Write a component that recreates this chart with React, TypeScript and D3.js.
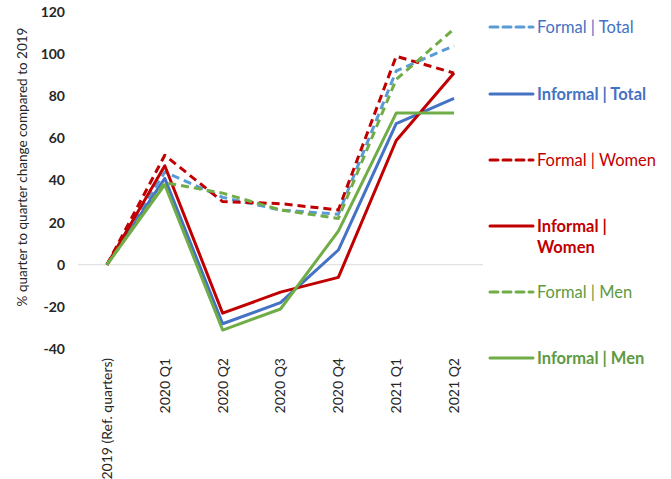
import React from "react";
import * as d3 from "d3";

const categories = ["2019 (Ref. quarters)", "2020 Q1", "2020 Q2", "2020 Q3", "2020 Q4", "2021 Q1", "2021 Q2"];
const yTicks = [-40, -20, 0, 20, 40, 60, 80, 100, 120];

const formalTotal = [0, 44, 32, 26, 24, 92, 104];
const informalTotal = [0, 41, -28, -18, 7, 67, 79];
const formalWomen = [0, 52, 30, 29, 26, 99, 91];
const informalWomen = [0, 47, -23, -13, -6, 59, 91];
const formalMen = [0, 39, 34, 26, 22, 88, 112];
const informalMen = [0, 38, -31, -21, 16, 72, 72];

const seriesNames = ["Formal | Total", "Informal | Total", "Formal | Women", "Informal | Women", "Formal | Men", "Informal | Men"];
const seriesData = [formalTotal, informalTotal, formalWomen, informalWomen, formalMen, informalMen];
const lineColors = ["#5B9BD5", "#4472C4", "#C00000", "#C00000", "#70AD47", "#70AD47"];
const textColors = ["#4472C4", "#4472C4", "#C00000", "#C00000", "#5E9A3F", "#5E9A3F"];
const dashed = [true, false, true, false, true, false];

const W = 671;
const H = 479;
const FONT = "Lato, 'Open Sans', sans-serif";

export default function App() {
  const x = d3.scalePoint<string>().domain(categories).range([78, 483]).padding(0.5);
  const y = d3.scaleLinear().domain([-40, 120]).range([349, 12]);
  const line = d3
    .line<number>()
    .x((_, i) => x(categories[i]) as number)
    .y((d) => y(d));

  const legendY = [27, 94, 160, 226, 292, 358];

  return (
    <svg width={W} height={H} style={{ position: "absolute", left: 0, top: 0, background: "#fff" }} fontFamily={FONT}>
      <rect width={W} height={H} fill="#fff" />
      <line x1={78} x2={483} y1={y(0)} y2={y(0)} stroke="#D9D9D9" strokeWidth={1.2} />
      {yTicks.map((t) => (
        <text key={t} x={65} y={y(t)} dy="0.35em" textAnchor="end" fontSize={14} fontWeight="bold" fill="#262626">
          {t}
        </text>
      ))}
      <text
        transform={`translate(22,167) rotate(-90)`}
        textAnchor="middle"
        dy="0.35em"
        fontSize={13.5}
        fill="#262626"
      >
        % quarter to quarter change compared to 2019
      </text>
      {categories.map((c) => (
        <text
          key={c}
          transform={`translate(${x(c)},358) rotate(-90)`}
          textAnchor="end"
          dy="0.35em"
          fontSize={14}
          fill="#262626"
        >
          {c}
        </text>
      ))}
      {seriesData.map((s, i) => (
        <path
          key={seriesNames[i]}
          d={line(s) || ""}
          fill="none"
          stroke={lineColors[i]}
          strokeWidth={3}
          strokeDasharray={dashed[i] ? "8,5" : undefined}
          strokeLinejoin="round"
        />
      ))}
      {seriesNames.map((n, i) => {
        const ly = legendY[i];
        const bold = !dashed[i];
        const parts = n === "Informal | Women" ? ["Informal |", "Women"] : [n];
        return (
          <g key={n}>
            <line
              x1={490}
              x2={533}
              y1={ly}
              y2={ly}
              stroke={lineColors[i]}
              strokeWidth={3}
              strokeDasharray={dashed[i] ? "8,5" : undefined}
              strokeLinecap="round"
            />
            {parts.map((p, k) => (
              <text
                key={k}
                x={537}
                y={ly + k * 21}
                dy="0.35em"
                fontSize={16.5}
                fontWeight={bold ? "bold" : "normal"}
                fill={textColors[i]}
              >
                {p}
              </text>
            ))}
          </g>
        );
      })}
    </svg>
  );
}
